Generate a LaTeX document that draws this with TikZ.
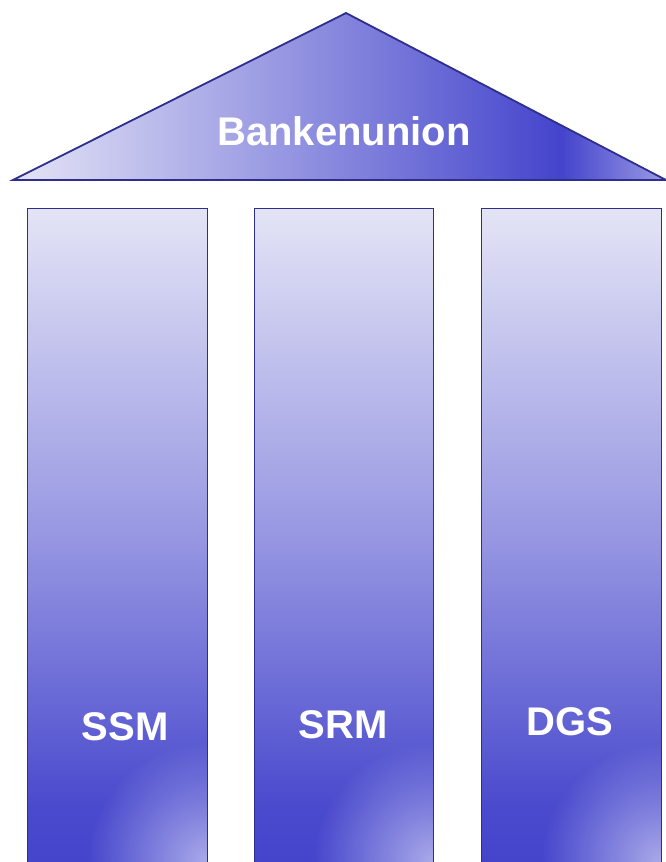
\documentclass[tikz,border=0pt]{standalone}
\usepackage{fontspec}
\setmainfont{Liberation Sans}
\usetikzlibrary{fadings}

\definecolor{lineblue}{RGB}{46,46,142}
\definecolor{pale}{RGB}{228,228,246}
\definecolor{midblue}{RGB}{150,150,226}
\definecolor{deepblue}{RGB}{68,68,204}
\definecolor{glow}{RGB}{170,170,234}

% pillars: light at the top, deep blue towards the foot
\pgfdeclareverticalshading{pillarshade}{100bp}{%
  color(0bp)=(deepblue); color(25bp)=(deepblue); color(30bp)=(deepblue!92!midblue);
  color(50bp)=(midblue); color(75bp)=(pale); color(100bp)=(pale)}
% roof: light on the left, darkest near the right, lighter at the tip
\pgfdeclarehorizontalshading{roofshade}{100bp}{%
  color(0bp)=(pale); color(25bp)=(pale); color(48bp)=(midblue!90!deepblue);
  color(67bp)=(deepblue); color(75bp)=(glow!85!deepblue); color(100bp)=(glow)}

% soft round spot, opaque in the middle
\tikzfading[name=softspot, inner color=transparent!0, outer color=transparent!100]

\tikzset{
  pillar/.style={draw=lineblue, line width=0.9pt, shading=pillarshade},
  roof/.style={draw=lineblue, line width=1.8pt, line join=miter, shading=roofshade},
  label/.style={text=white, font=\bfseries\fontsize{40}{44}\selectfont, inner sep=0pt, anchor=base}
}

\begin{document}
\begin{tikzpicture}[x=1pt,y=-1pt]
  \useasboundingbox (0,0) rectangle (666,862);

  % roof
  \coordinate (roofL) at (13,180);
  \coordinate (roofT) at (346,13);
  \coordinate (roofR) at (666,180);
  \shade[roof] (roofL) -- (roofT) -- (roofR) -- cycle;
  \node[label] (bank) at (344,145) {Bankenunion};

  % the three pillars
  \foreach \name/\xl/\xr/\tx/\ty/\txt in {ssm/27/207/125/740/SSM, srm/254/433/343/738/SRM, dgs/481/661/570/735/DGS}{
    \shade[pillar] (\xl,208) rectangle (\xr,870);
    \begin{scope}
      \clip (\xl,208) rectangle (\xr,870);
      \fill[glow, path fading=softspot] (\xr,862) circle[radius=120];
    \end{scope}
    \draw[lineblue, line width=0.9pt] (\xl,870) -- (\xl,208) -- (\xr,208) -- (\xr,870);
    \node[label] (\name) at (\tx,\ty) {\txt};
  }
\end{tikzpicture}
\end{document}
